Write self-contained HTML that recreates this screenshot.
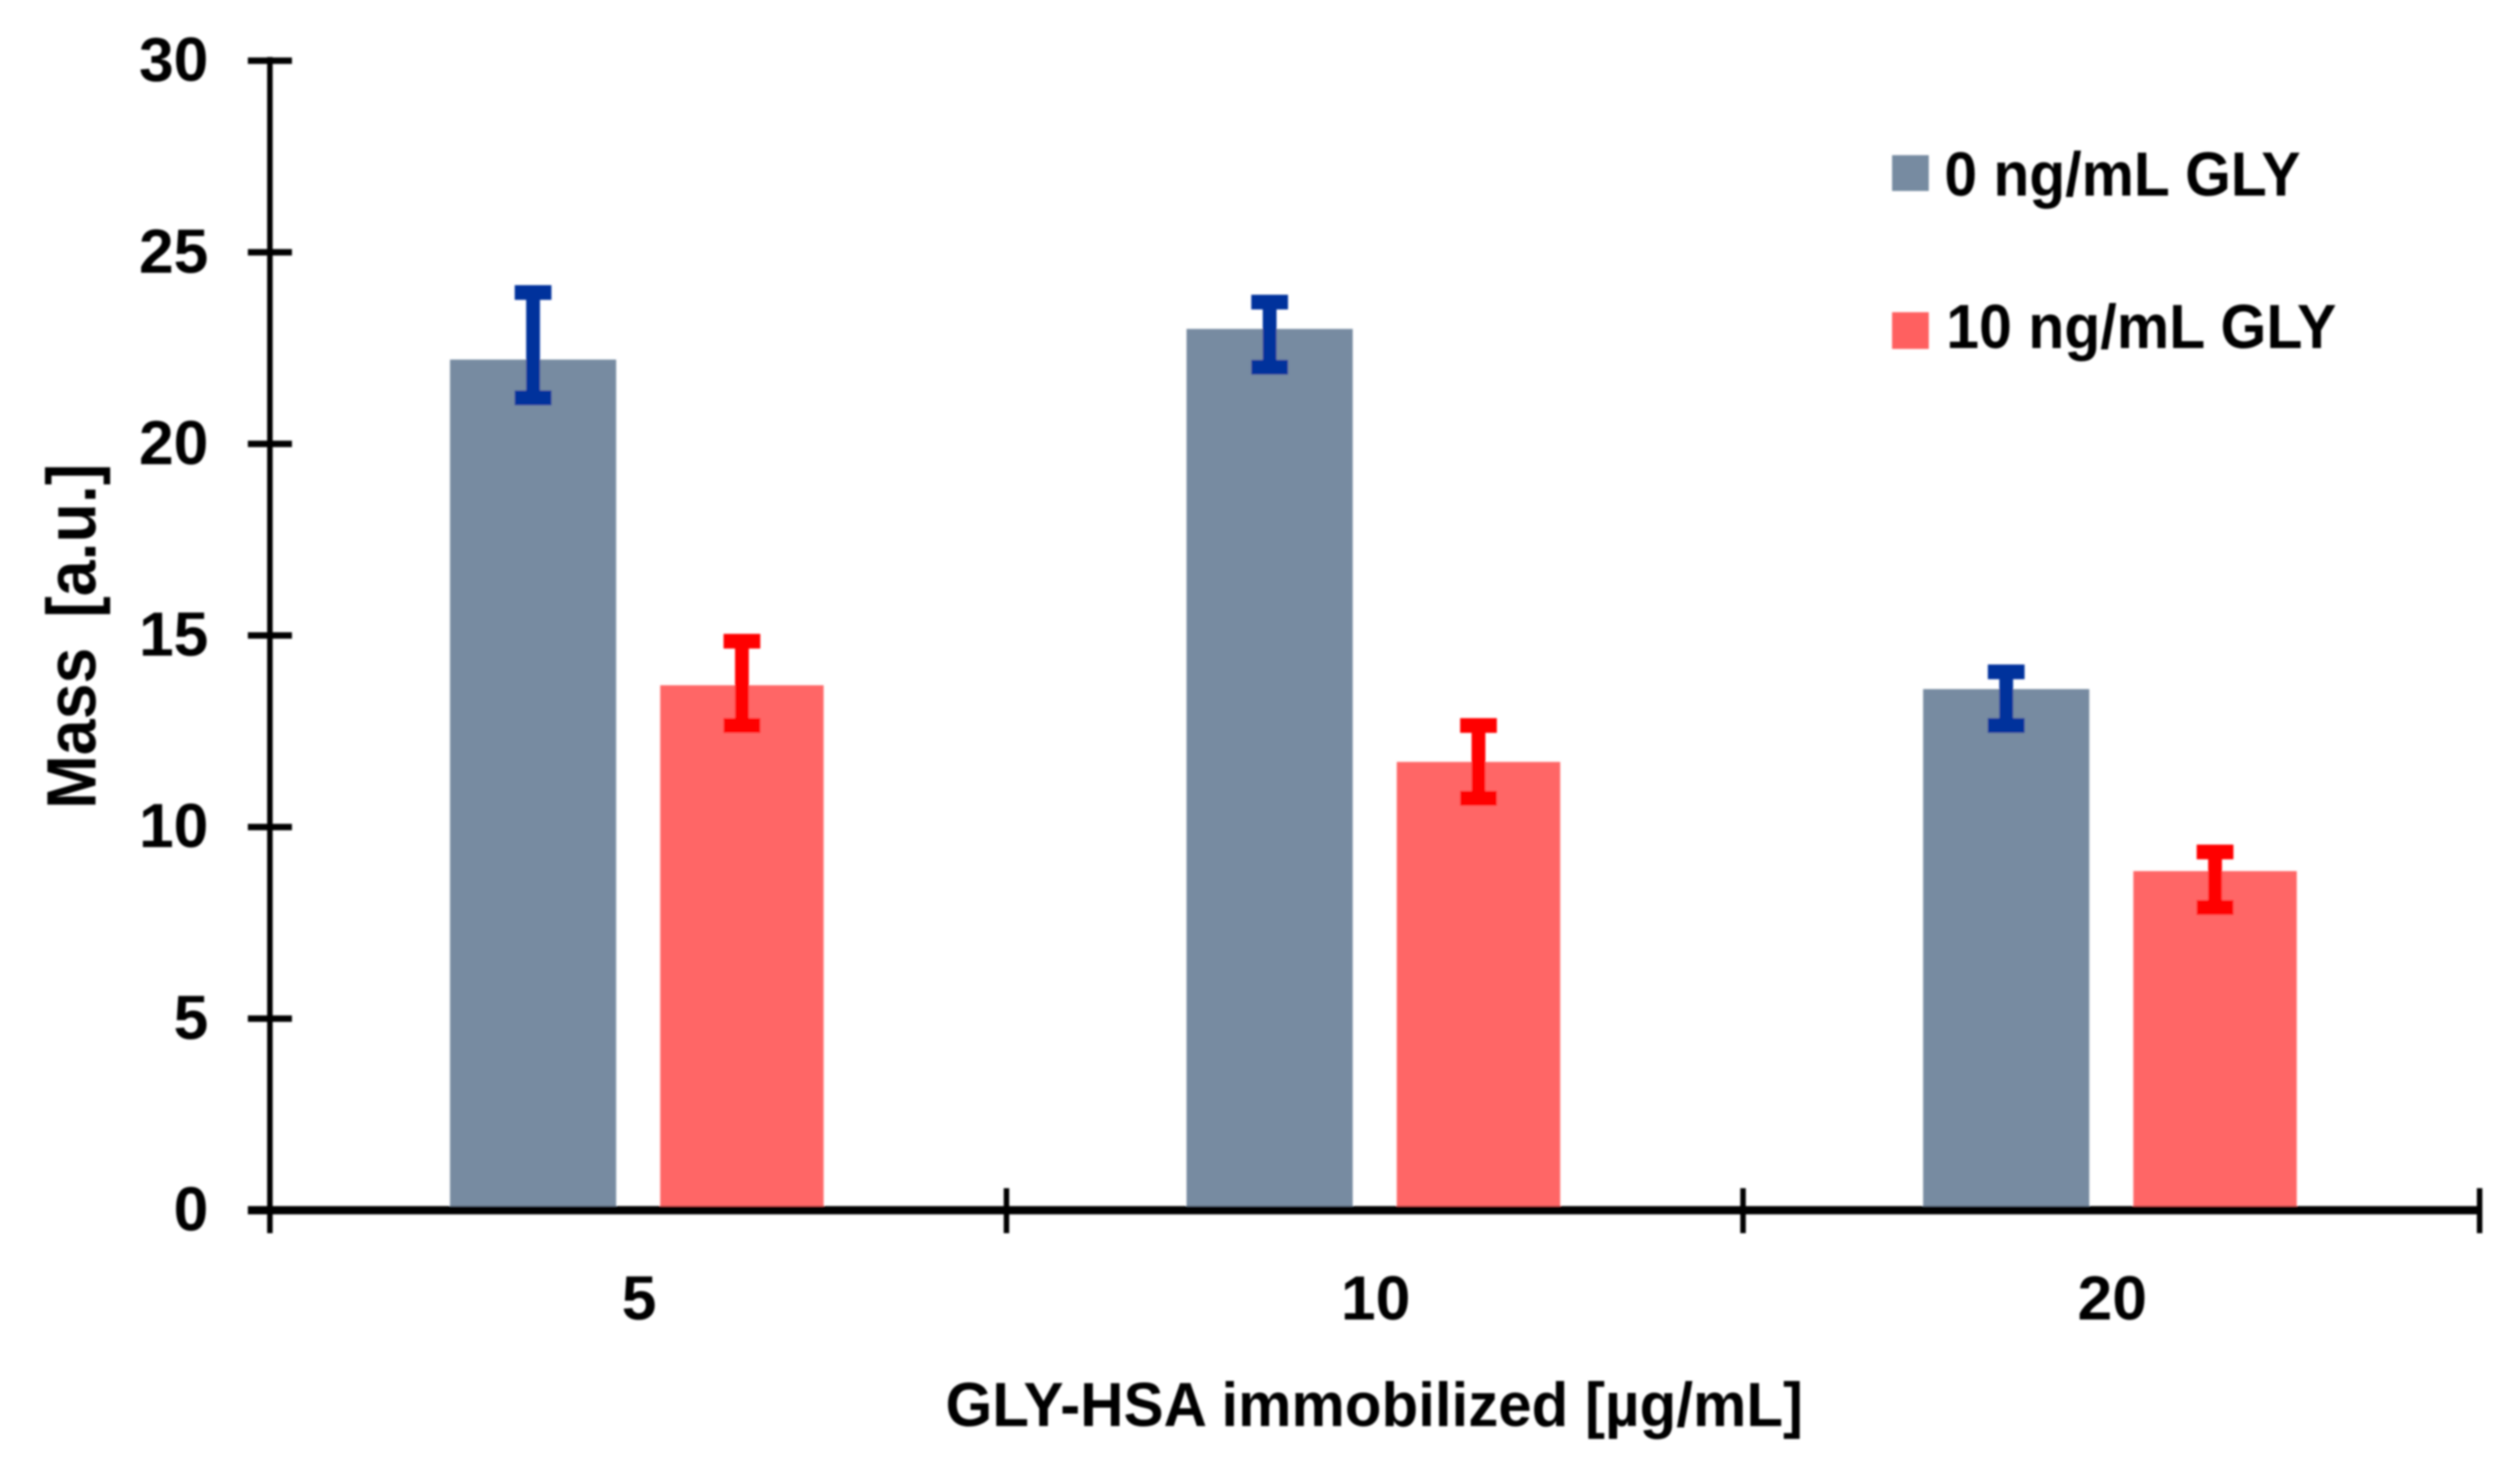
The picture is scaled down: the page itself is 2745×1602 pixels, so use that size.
<!DOCTYPE html>
<html lang="en">
<head>
<meta charset="utf-8">
<title>Mass vs GLY-HSA immobilized</title>
<style>
html,body{margin:0;padding:0;background:#fff;width:2745px;height:1602px;overflow:hidden}
svg{display:block}
text{font-family:"Liberation Sans",sans-serif;font-weight:700;fill:#000}
</style>
</head>
<body>
<svg id="chart" xmlns="http://www.w3.org/2000/svg" width="2745" height="1602" viewBox="0 0 2745 1602">
<defs><filter id="soft" x="-5%" y="-5%" width="110%" height="110%"><feGaussianBlur stdDeviation="1"/></filter></defs>
<rect width="2745" height="1602" fill="#ffffff"/>
<g id="plot" filter="url(#soft)"></g>
<g filter="url(#soft)">
<rect x="2061" y="169" width="40" height="39" fill="#778ba1"/>
<text x="2118" y="213" font-size="68" textLength="388" lengthAdjust="spacingAndGlyphs">0 ng/mL GLY</text>
<rect x="2061" y="340" width="40" height="40" fill="#ff6161"/>
<text x="2120" y="379" font-size="68" textLength="425" lengthAdjust="spacingAndGlyphs">10 ng/mL GLY</text>
</g>
<g filter="url(#soft)">
<text transform="translate(104,881) rotate(-90)" font-size="76" word-spacing="14" textLength="376" lengthAdjust="spacingAndGlyphs">Mass [a.u.]</text>
<text x="1030" y="1553" font-size="68" textLength="934" lengthAdjust="spacingAndGlyphs">GLY-HSA immobilized [µg/mL]</text>
</g>
</svg>
<script>
const categories = ['5', '10', '20'];
const yTicks = [0, 5, 10, 15, 20, 25, 30];
const series0 = [22.2, 23.0, 13.6];
const series0ErrTop = [23.95, 23.7, 14.05];
const series0ErrBottom = [21.2, 22.0, 12.65];
const series10 = [13.7, 11.7, 8.85];
const series10ErrTop = [14.85, 12.65, 9.35];
const series10ErrBottom = [12.65, 10.75, 7.9];

const NS = 'http://www.w3.org/2000/svg';
const plot = document.getElementById('plot');
const Y0 = 1318, PX_PER_UNIT = 41.73, X0 = 294, X1 = 2701;
const band = (X1 - X0) / categories.length;
function yScale(v) { return Y0 - v * PX_PER_UNIT; }
function xCenter(i) { return X0 + (i + 0.5) * band; }
function xEdge(i) { return X0 + i * band; }
function make(tag, attrs, text) {
  const el = document.createElementNS(NS, tag);
  for (const k in attrs) el.setAttribute(k, attrs[k]);
  if (text !== undefined) el.textContent = text;
  plot.appendChild(el);
  return el;
}
function drawBar(i, val, offset, width, fill, name) {
  const el = make('rect', { x: xCenter(i) + offset, y: yScale(val), width: width, height: Y0 - yScale(val), fill: fill });
  
  
}
function drawError(i, top, bottom, offset, width, color, name) {
  const cx = xCenter(i) + offset + width / 2;
  const stem = make('rect', { x: cx - 7.5, y: yScale(top), width: 15, height: yScale(bottom) - yScale(top), fill: color });
  
  
  const capT = make('rect', { x: cx - 20, y: yScale(top) - 8, width: 40, height: 16, fill: color });
  
  
  const capB = make('rect', { x: cx - 20, y: yScale(bottom) - 8, width: 40, height: 16, fill: color });
  
  
}
categories.forEach(function (c, i) {
  drawBar(i, series0[i], -205, 181, '#778ba1', 'bar-0-ng-' + c);
  drawBar(i, series10[i], 24, 178, '#ff6666', 'bar-10-ng-' + c);
});
/* axes */
const yAxis = make('rect', { x: X0 - 3, y: yScale(30) - 4, width: 6, height: Y0 - yScale(30) + 8, fill: '#000' });


const xAxis = make('rect', { x: 270, y: Y0 - 4.5, width: X1 - 270 + 2, height: 9, fill: '#000' });


yTicks.forEach(function (t) {
  const tick = make('rect', { x: 270, y: yScale(t) - 3.5, width: 48, height: 7, fill: '#000' });
  
  
  const label = make('text', { x: 227, y: yScale(t) + 22, 'font-size': 68, 'text-anchor': 'end' }, String(t));
  
  
});
for (let i = 0; i <= categories.length; i++) {
  const tick = make('rect', { x: xEdge(i) - 3, y: 1294, width: 6, height: 49, fill: '#000' });
  
  
}
categories.forEach(function (c, i) {
  const label = make('text', { x: xCenter(i) + 1, y: 1437, 'font-size': 68, 'text-anchor': 'middle' }, c);
  
  
  drawError(i, series0ErrTop[i], series0ErrBottom[i], -205, 181, '#00309c', 'error-bar-0-ng-' + c);
  drawError(i, series10ErrTop[i], series10ErrBottom[i], 24, 178, '#ff0000', 'error-bar-10-ng-' + c);
});
</script>
</body>
</html>
